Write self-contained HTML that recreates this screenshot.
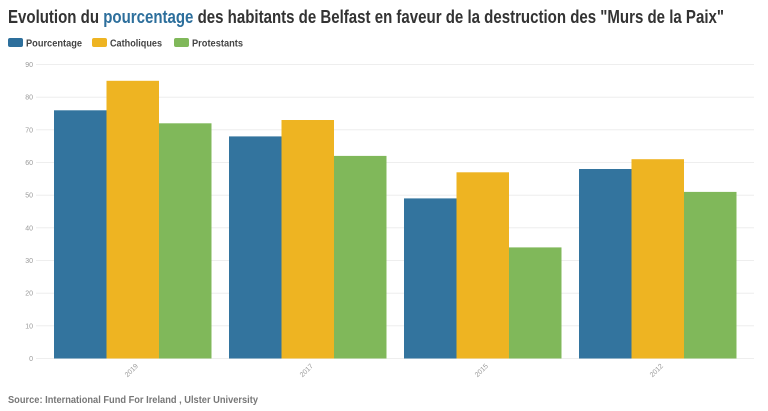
<!DOCTYPE html>
<html><head><meta charset="utf-8"><style>
html,body{margin:0;padding:0;background:#fff;}
svg{display:block;font-family:"Liberation Sans",sans-serif;}
</style></head><body>
<svg width="768" height="411" viewBox="0 0 768 411" xmlns="http://www.w3.org/2000/svg">
<text x="8" y="23" font-size="18" font-weight="bold" fill="#333" textLength="716" lengthAdjust="spacingAndGlyphs">Evolution du <tspan fill="#2d6f9c">pourcentage</tspan> des habitants de Belfast en faveur de la destruction des "Murs de la Paix"</text>
<rect x="8" y="38" width="15" height="9" rx="2" fill="#2d6f9c"/>
<text x="26" y="46.5" font-size="10" font-weight="bold" fill="#444" textLength="56" lengthAdjust="spacingAndGlyphs">Pourcentage</text>
<rect x="92" y="38" width="15" height="9" rx="2" fill="#eeb422"/>
<text x="110" y="46.5" font-size="10" font-weight="bold" fill="#444" textLength="52" lengthAdjust="spacingAndGlyphs">Catholiques</text>
<rect x="174" y="38" width="15" height="9" rx="2" fill="#80b85a"/>
<text x="192" y="46.5" font-size="10" font-weight="bold" fill="#444" textLength="51" lengthAdjust="spacingAndGlyphs">Protestants</text>
<g stroke="#eeeeee" stroke-width="1">
<line x1="36" x2="754" y1="64.5" y2="64.5"/><line x1="36" x2="754" y1="97.2" y2="97.2"/><line x1="36" x2="754" y1="129.8" y2="129.8"/><line x1="36" x2="754" y1="162.5" y2="162.5"/><line x1="36" x2="754" y1="195.2" y2="195.2"/><line x1="36" x2="754" y1="227.8" y2="227.8"/><line x1="36" x2="754" y1="260.5" y2="260.5"/><line x1="36" x2="754" y1="293.2" y2="293.2"/><line x1="36" x2="754" y1="325.8" y2="325.8"/><line x1="36" x2="754" y1="358.5" y2="358.5"/>
</g>
<g font-size="7" fill="#999" text-anchor="end">
<text x="33" y="67">90</text><text x="33" y="99.7">80</text><text x="33" y="132.3">70</text><text x="33" y="165">60</text><text x="33" y="197.7">50</text><text x="33" y="230.3">40</text><text x="33" y="263">30</text><text x="33" y="295.7">20</text><text x="33" y="328.3">10</text><text x="33" y="361">0</text>
</g>
<g>
<rect x="54" y="110.3" width="52.5" height="248.2" fill="#33749e"/>
<rect x="106.5" y="80.8" width="52.5" height="277.7" fill="#eeb422"/>
<rect x="159" y="123.3" width="52.5" height="235.2" fill="#80b85a"/>
<rect x="229" y="136.4" width="52.5" height="222.1" fill="#33749e"/>
<rect x="281.5" y="120" width="52.5" height="238.5" fill="#eeb422"/>
<rect x="334" y="155.9" width="52.5" height="202.6" fill="#80b85a"/>
<rect x="404" y="198.4" width="52.5" height="160.1" fill="#33749e"/>
<rect x="456.5" y="172.3" width="52.5" height="186.2" fill="#eeb422"/>
<rect x="509" y="247.4" width="52.5" height="111.1" fill="#80b85a"/>
<rect x="579" y="169" width="52.5" height="189.5" fill="#33749e"/>
<rect x="631.5" y="159.2" width="52.5" height="199.3" fill="#eeb422"/>
<rect x="684" y="191.9" width="52.5" height="166.6" fill="#80b85a"/>
</g>
<g font-size="7" fill="#999" text-anchor="middle">
<text transform="translate(133,372) rotate(-45)">2019</text>
<text transform="translate(308,372) rotate(-45)">2017</text>
<text transform="translate(483,372) rotate(-45)">2015</text>
<text transform="translate(658,372) rotate(-45)">2012</text>
</g>
<text x="8" y="403" font-size="10.5" font-weight="bold" fill="#777" textLength="250" lengthAdjust="spacingAndGlyphs">Source: International Fund For Ireland , Ulster University</text>
</svg>
</body></html>
